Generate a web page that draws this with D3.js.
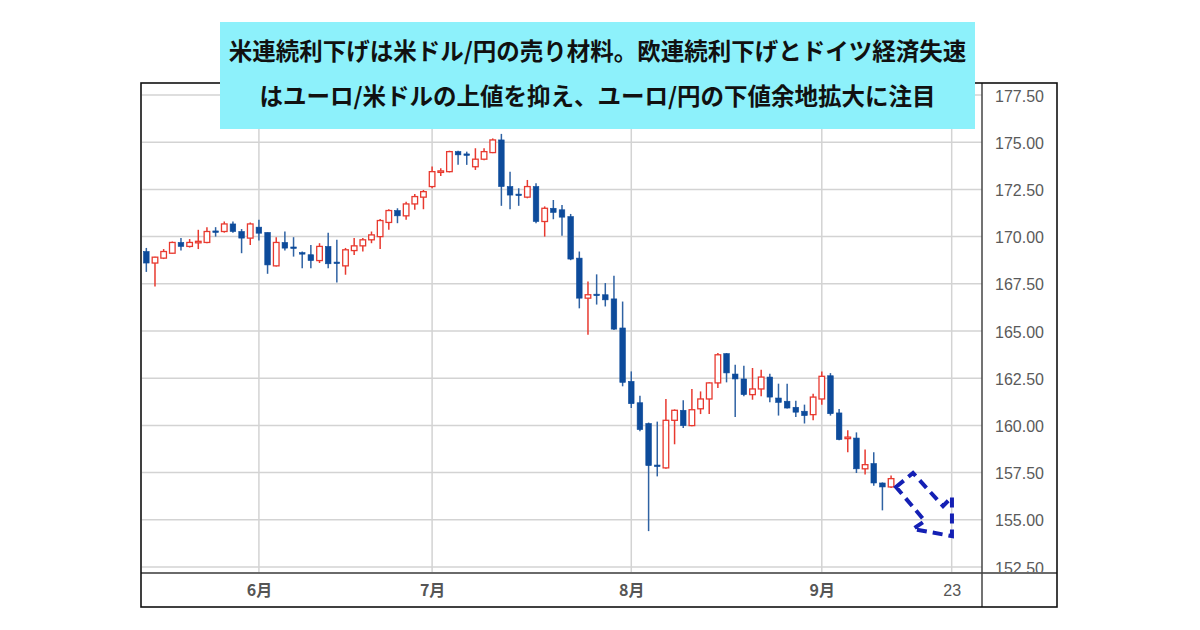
<!DOCTYPE html>
<html>
<head>
<meta charset="utf-8">
<script src="https://d3js.org/d3.v7.min.js"></script>
<style>
  body { margin: 0; background: #fff; }
  svg { display: block; }
  .ylab { font-family: "Liberation Sans", Arial, sans-serif; font-size: 16px; fill: #5a5a5a; }
  .xlab { font-family: "Noto Sans CJK JP", sans-serif; font-size: 16px; font-weight: bold; fill: #555; }
  .xlab.day { font-family: "Liberation Sans", Arial, sans-serif; font-size: 16px; font-weight: normal; }
  .title { font-family: "Noto Sans CJK JP", sans-serif; font-size: 23.5px; font-weight: bold; fill: #111; }
</style>
</head>
<body>
<svg id="chart" width="1200" height="630"></svg>
<script>
// EUR/JPY daily candles
const dates = [
  "2024-05-15","2024-05-16","2024-05-17","2024-05-20","2024-05-21","2024-05-22","2024-05-23","2024-05-24",
  "2024-05-27","2024-05-28","2024-05-29","2024-05-30","2024-05-31",
  "2024-06-03","2024-06-04","2024-06-05","2024-06-06","2024-06-07","2024-06-10","2024-06-11","2024-06-12",
  "2024-06-13","2024-06-14","2024-06-17","2024-06-18","2024-06-19","2024-06-20","2024-06-21","2024-06-24",
  "2024-06-25","2024-06-26","2024-06-27","2024-06-28",
  "2024-07-01","2024-07-02","2024-07-03","2024-07-04","2024-07-05","2024-07-08","2024-07-09","2024-07-10",
  "2024-07-11","2024-07-12","2024-07-15","2024-07-16","2024-07-17","2024-07-18","2024-07-19","2024-07-22",
  "2024-07-23","2024-07-24","2024-07-25","2024-07-26","2024-07-29","2024-07-30","2024-07-31",
  "2024-08-01","2024-08-02","2024-08-05","2024-08-06","2024-08-07","2024-08-08","2024-08-09","2024-08-12",
  "2024-08-13","2024-08-14","2024-08-15","2024-08-16","2024-08-19","2024-08-20","2024-08-21","2024-08-22",
  "2024-08-23","2024-08-26","2024-08-27","2024-08-28","2024-08-29","2024-08-30",
  "2024-09-02","2024-09-03","2024-09-04","2024-09-05","2024-09-06","2024-09-09","2024-09-10","2024-09-11",
  "2024-09-12"
];
const open = [
  169.21,168.60,168.86,169.12,169.69,169.48,169.69,169.69,170.30,170.27,170.67,170.27,169.92,
  170.50,170.22,168.45,169.69,169.45,169.15,169.04,168.73,169.48,168.65,168.45,169.26,169.51,169.83,170.00,170.75,
  171.38,171.10,171.73,172.09,
  172.65,173.40,173.44,174.50,174.38,173.70,174.10,174.45,175.12,172.65,172.25,172.09,172.65,170.80,171.50,171.42,
  171.06,168.86,166.74,166.95,166.92,166.70,165.16,
  162.33,161.20,160.10,157.90,157.75,160.27,160.80,159.99,160.88,161.40,162.25,163.80,162.72,162.46,161.63,161.93,
  162.56,161.45,161.28,160.96,160.75,160.57,
  161.40,162.63,160.66,159.30,159.33,157.70,157.98,156.95,156.74
];
const high = [
  169.40,168.93,169.34,169.74,169.92,169.87,170.36,170.50,170.50,170.80,170.80,170.40,170.75,
  170.89,170.22,169.97,170.27,169.97,169.21,169.56,169.65,170.20,169.83,169.40,169.92,169.92,170.27,170.93,171.45,
  171.50,171.85,172.26,172.47,
  173.71,173.62,174.55,174.55,174.50,174.68,174.68,175.20,175.44,173.44,172.56,173.00,172.83,171.60,171.94,171.68,
  171.20,169.21,167.62,168.00,167.54,167.92,166.56,
  162.86,161.57,160.15,160.20,161.40,160.85,161.33,161.93,161.80,162.28,163.83,163.83,163.21,163.16,163.04,162.95,
  162.74,162.21,162.21,161.31,161.10,161.68,
  162.86,162.77,160.87,159.74,159.63,158.72,158.58,156.98,157.34
];
const low = [
  168.13,167.36,168.81,169.10,169.26,169.42,169.34,169.65,170.00,170.21,170.20,169.12,169.56,
  169.79,168.03,168.42,169.26,168.94,168.33,168.33,168.60,168.33,167.57,167.98,169.03,169.21,169.65,169.34,170.36,
  170.71,170.89,171.42,171.45,
  172.56,173.21,173.40,173.80,173.80,173.53,174.05,174.42,171.63,171.45,171.63,172.03,170.71,170.00,170.92,170.05,
  168.75,166.20,164.80,166.40,166.30,165.05,162.07,
  160.92,159.69,154.40,157.30,157.70,159.00,159.86,159.95,160.60,160.60,161.98,162.28,160.45,161.54,161.36,161.54,
  161.22,160.52,160.90,160.45,160.10,160.27,
  161.10,160.52,159.21,158.58,157.48,157.40,156.81,155.50,156.69
];
const close = [
  168.60,168.91,169.21,169.69,169.48,169.69,169.75,170.27,170.25,170.67,170.27,169.92,170.67,
  170.18,168.50,169.69,169.39,169.40,169.12,168.73,169.48,168.56,168.60,169.30,169.51,169.83,170.09,170.85,171.38,
  171.10,171.73,172.12,172.38,
  173.44,173.48,174.50,174.33,174.33,174.10,174.50,175.12,172.65,172.20,172.20,172.65,170.80,171.50,171.28,171.03,
  168.81,166.74,166.92,166.92,166.65,165.10,162.28,
  161.15,159.78,157.87,157.83,160.27,160.80,159.99,160.83,161.40,162.25,163.74,162.78,162.46,161.63,161.93,162.56,
  161.50,161.22,160.92,160.70,160.52,161.50,
  162.60,160.62,159.25,159.38,157.70,157.92,156.95,156.74,157.18
];

const yTicks = [152.5, 155, 157.5, 160, 162.5, 165, 167.5, 170, 172.5, 175, 177.5];
const xTickDates = ["2024-06-03", "2024-07-01", "2024-08-01", "2024-09-02", "2024-09-23"];
const xTickLabels = ["6月", "7月", "8月", "9月", "23"];
const titleLines = [
  "米連続利下げは米ドル/円の売り材料。欧連続利下げとドイツ経済失速",
  "はユーロ/米ドルの上値を抑え、ユーロ/円の下値余地拡大に注目"
];
// dashed arrow annotation, in [trading-day position, price]
const arrowDays = [87.07, 89.03, 92.5, 93.53, 93.53, 89.03, 90.4];
const arrowPrices = [156.74, 157.48, 155.73, 156.21, 154.14, 154.51, 154.94];

const svg = d3.select("#chart");
const frame = { left: 141, top: 83, right: 1057, bottom: 607 };
const plot = { left: 142, top: 84, right: 982, bottom: 573 };

// trading days on the x axis (weekdays from first candle to past the 23rd)
const days = d3.utcDay.range(new Date("2024-05-15"), new Date("2024-09-27"))
  .filter(d => d.getUTCDay() !== 0 && d.getUTCDay() !== 6)
  .map(d3.utcFormat("%Y-%m-%d"));
const dayIndex = new Map(days.map((d, i) => [d, i]));

const x = d3.scaleLinear().domain([0, days.length]).range([plot.left, plot.right]);
const y = d3.scaleLinear().domain([152.5, 177.5]).range([567, 95]);
const cx = d => x(dayIndex.get(d) + 0.5);

const defs = svg.append("defs");
defs.append("clipPath").attr("id", "plotclip")
  .append("rect").attr("x", plot.left).attr("y", plot.top)
  .attr("width", plot.right - plot.left).attr("height", plot.bottom - plot.top);
defs.append("clipPath").attr("id", "yclip")
  .append("rect").attr("x", plot.right).attr("y", plot.top)
  .attr("width", frame.right - plot.right).attr("height", plot.bottom - plot.top);

// grid
const grid = svg.append("g").attr("stroke", "#d3d3d3").attr("stroke-width", 1.5);
grid.selectAll(".hg").data(yTicks).enter().append("line")
  .attr("x1", plot.left).attr("x2", plot.right)
  .attr("y1", d => y(d)).attr("y2", d => y(d));
grid.selectAll(".vg").data(xTickDates).enter().append("line")
  .attr("x1", d => cx(d)).attr("x2", d => cx(d))
  .attr("y1", plot.top).attr("y2", plot.bottom);

// candles
const candles = dates.map((d, i) => ({ date: d, o: open[i], h: high[i], l: low[i], c: close[i] }));
const red = "#e8392f", blue = "#0d4b9b", blueWick = "#2f62a3";
const bw = 5.6;
const cg = svg.append("g").attr("clip-path", "url(#plotclip)");
const g = cg.selectAll(".candle").data(candles).enter().append("g").attr("class", "candle");
g.append("line")
  .attr("x1", d => cx(d.date)).attr("x2", d => cx(d.date))
  .attr("y1", d => y(d.h)).attr("y2", d => y(d.l))
  .attr("stroke", d => d.c >= d.o ? red : blueWick)
  .attr("stroke-width", 1.5);
g.append("rect")
  .attr("x", d => cx(d.date) - bw / 2)
  .attr("width", bw)
  .attr("y", d => y(Math.max(d.o, d.c)))
  .attr("height", d => Math.max(1.5, Math.abs(y(d.o) - y(d.c))))
  .attr("fill", d => d.c >= d.o ? "#fff" : blue)
  .attr("stroke", d => d.c >= d.o ? red : blue)
  .attr("stroke-width", d => d.c >= d.o ? 1.3 : 0.6);

// dashed arrow
const arrowLine = d3.line().x(p => x(p[0])).y(p => y(p[1])).curve(d3.curveLinearClosed);
svg.append("path")
  .attr("d", arrowLine(arrowDays.map((dd, i) => [dd, arrowPrices[i]])))
  .attr("fill", "none")
  .attr("stroke", "#1420b4")
  .attr("stroke-width", 4)
  .attr("stroke-dasharray", "10,6")
  .attr("stroke-linejoin", "miter");

// y axis labels (clipped at the date-axis line)
const yAxis = d3.axisRight(y).tickValues(yTicks).tickFormat(d3.format(".2f")).tickSize(0).tickPadding(13);
const ya = svg.append("g").attr("clip-path", "url(#yclip)")
  .append("g").attr("transform", `translate(${plot.right},0)`).call(yAxis);
ya.select(".domain").remove();
ya.selectAll("text").attr("class", "ylab").attr("fill", null).attr("dy", "0.38em");

// x axis labels
const xAxis = d3.axisBottom(x)
  .tickValues(xTickDates.map(d => dayIndex.get(d) + 0.5))
  .tickFormat((d, i) => xTickLabels[i]).tickSize(0).tickPadding(12);
const xa = svg.append("g").attr("transform", `translate(0,${plot.bottom})`).call(xAxis);
xa.select(".domain").remove();
xa.selectAll("text")
  .attr("class", (d, i) => i === xTickLabels.length - 1 ? "xlab day" : "xlab")
  .attr("fill", null);

// separators and frame
svg.append("line").attr("x1", frame.left).attr("x2", frame.right)
  .attr("y1", plot.bottom).attr("y2", plot.bottom)
  .attr("stroke", "#6a6a6a").attr("stroke-width", 2);
svg.append("line").attr("x1", plot.right).attr("x2", plot.right)
  .attr("y1", frame.top).attr("y2", frame.bottom)
  .attr("stroke", "#444").attr("stroke-width", 1.5);
svg.append("rect").attr("x", frame.left).attr("y", frame.top)
  .attr("width", frame.right - frame.left).attr("height", frame.bottom - frame.top)
  .attr("fill", "none").attr("stroke", "#111").attr("stroke-width", 1.6);

// title box
svg.append("rect").attr("x", 220).attr("y", 22).attr("width", 755).attr("height", 107)
  .attr("fill", "#8df1fb");
svg.selectAll(".title").data(titleLines).enter().append("text")
  .attr("class", "title")
  .attr("x", 597.5)
  .attr("y", (d, i) => 52 + i * 45)
  .attr("dy", "0.36em")
  .attr("text-anchor", "middle")
  .text(d => d);
</script>
</body>
</html>
